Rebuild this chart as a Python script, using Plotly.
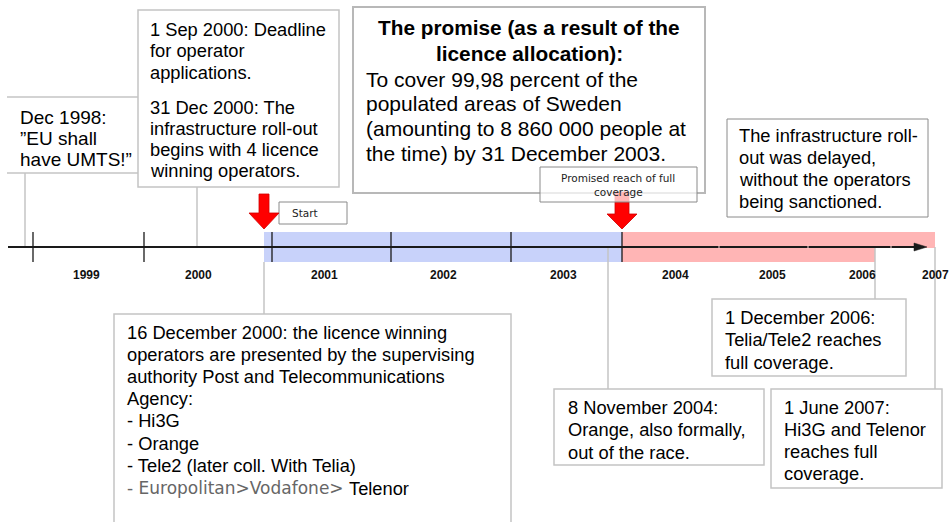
import plotly.graph_objects as go

# ---------------- data ----------------
years = ["1999", "2000", "2001", "2002", "2003", "2004", "2005", "2006", "2007"]

dec1998_lines = ["Dec 1998:", "\u201dEU shall", "have UMTS!\u201d"]
sep2000_lines = ["1 Sep 2000: Deadline", "for operator", "applications."]
dec2000_lines = ["31 Dec 2000: The", "infrastructure roll-out", "begins with 4 licence", "winning operators."]
promise_title = ["The promise (as a result of the", "licence allocation):"]
promise_lines = ["To cover 99,98 percent of the", "populated areas of Sweden",
                 "(amounting to 8 860 000 people at", "the time) by 31 December 2003."]
delayed_lines = ["The infrastructure roll-", "out was delayed,", "without the operators", "being sanctioned."]
licence_lines = ["16 December 2000: the licence winning", "operators are presented by the supervising",
                 "authority Post and Telecommunications", "Agency:", "- Hi3G", "- Orange",
                 "- Tele2 (later coll. With Telia)"]
licence_last_grey = "- Europolitan>Vodafone>"
licence_last_black = "Telenor"
nov2004_lines = ["8 November 2004:", "Orange, also formally,", "out of the race."]
dec2006_lines = ["1 December 2006:", "Telia/Tele2 reaches", "full coverage."]
jun2007_lines = ["1 June 2007:", "Hi3G and Telenor", "reaches full", "coverage."]
start_label = "Start"
promised_label = ["Promised reach of full", "coverage"]

# ---------------- layout (pixel canvas) ----------------
W, H = 951, 522
FONT = "Arial, Liberation Sans, sans-serif"
FONT_W = "DejaVu Sans, Verdana, sans-serif"
year_x = [86, 198, 324, 443, 563, 675, 772, 862, 935]
year_y = 275
tick_x = [33, 144, 272, 391, 511, 622]
minor_gap_x = [719, 808, 891]
AXIS_Y = 247
BAND_TOP, BAND_BOT = 232, 262
TS = 18.3  # box text size

shapes = []
annos = []


def rect(x0, y0, x1, y1, line="#c4c4c4", width=1.5, fill="white"):
    shapes.append(dict(type="rect", xref="x", yref="y", x0=x0, y0=y0, x1=x1, y1=y1,
                       line=dict(color=line, width=width), fillcolor=fill))


def line(x0, y0, x1, y1, color="#c4c4c4", width=1.5):
    shapes.append(dict(type="line", xref="x", yref="y", x0=x0, y0=y0, x1=x1, y1=y1,
                       line=dict(color=color, width=width)))


def text_lines(lines, x, y0, dy, size=TS, color="black", bold=False, anchor="left", family=FONT):
    for i, t in enumerate(lines):
        annos.append(dict(x=x, y=y0 + i * dy, xref="x", yref="y", text=(f"<b>{t}</b>" if bold else t),
                          showarrow=False, xanchor=anchor, yanchor="middle", align=anchor,
                          font=dict(family=family, size=size, color=color)))


def down_arrow(cx, top, head_top, tip, shaft_half, head_half):
    p = (f"M {cx-shaft_half} {top} L {cx+shaft_half} {top} L {cx+shaft_half} {head_top} "
         f"L {cx+head_half} {head_top} L {cx} {tip} L {cx-head_half} {head_top} "
         f"L {cx-shaft_half} {head_top} Z")
    shapes.append(dict(type="path", xref="x", yref="y", path=p, fillcolor="#ff0000",
                       line=dict(color="#d00000", width=0.8)))


# bands
rect(264, BAND_TOP, 622, BAND_BOT, line="rgba(0,0,0,0)", width=0, fill="#c8d2fa")
rect(622, BAND_TOP, 875, BAND_BOT, line="rgba(0,0,0,0)", width=0, fill="#ffb5b5")
rect(875, BAND_TOP, 935, AXIS_Y + 1, line="rgba(0,0,0,0)", width=0, fill="#ffb5b5")

# connectors
line(25, 173, 25, AXIS_Y)
line(197, 187, 197, AXIS_Y)
line(264, BAND_BOT, 264, 314)
line(608, AXIS_Y, 608, 389)
line(875, AXIS_Y, 875, 299)
line(935, AXIS_Y, 935, 389)

# axis
line(8, AXIS_Y, 918, AXIS_Y, color="#1a1a1a", width=2)
shapes.append(dict(type="path", xref="x", yref="y",
                   path=f"M 914 {AXIS_Y-4} L 927 {AXIS_Y} L 914 {AXIS_Y+4} Z",
                   fillcolor="#1a1a1a", line=dict(color="#1a1a1a", width=0.5)))
for tx in tick_x:
    line(tx, BAND_TOP, tx, BAND_BOT, color="#1a1a1a", width=1.3)
for gx in minor_gap_x:
    line(gx, AXIS_Y - 1.5, gx, AXIS_Y + 1.5, color="#ffd6d6", width=1)

# boxes
line(7, 97, 150, 97)
line(7, 173, 150, 173)
rect(138, 10, 339, 187)
rect(353, 7, 705, 193, line="#b8b8b8", width=2)
rect(279, 202, 347, 224, line="#8a8a8a", width=1)
rect(727, 119, 928, 217, line="#8a8a8a", width=1)
rect(114, 314, 511, 540)
rect(554, 389, 764, 465)
rect(712, 299, 906, 376)
rect(771, 389, 942, 488)

# arrows
down_arrow(264, 194, 213, 229, 5, 15)
down_arrow(622, 192, 214, 229, 7, 15)
rect(540, 167, 697, 202, line="#8a8a8a", width=1, fill="rgba(255,255,255,0.72)")

# texts
text_lines(dec1998_lines, 18, 117, 21.2, size=19)
text_lines(sep2000_lines, 148, 29, 21.5)
text_lines(dec2000_lines, 148, 107, 21.3)
text_lines(promise_title, 529, 27, 26, size=20.8, bold=True, anchor="center")
text_lines(promise_lines, 364, 79, 24.7, size=21)
text_lines(delayed_lines, 737, 135, 22.3)
text_lines(licence_lines, 125, 332, 22.2)
text_lines([licence_last_grey.replace(">", "&gt;")], 125, 488, 0, size=17, color="#666666", family=FONT_W)
text_lines([licence_last_black], 347, 488, 0)
text_lines(nov2004_lines, 566, 407, 22.5)
text_lines(dec2006_lines, 723, 317, 22.5)
text_lines(jun2007_lines, 782, 407, 22.2)
text_lines([start_label], 290, 213, 0, size=10.5, color="#222222", family=FONT_W)
text_lines(promised_label, 618, 178, 14, size=10.5, color="#222222", anchor="center", family=FONT_W)

for y, x in zip(years, year_x):
    annos.append(dict(x=x, y=year_y, xref="x", yref="y", text=f"<b>{y}</b>", showarrow=False,
                      xanchor="center", yanchor="middle", font=dict(family=FONT, size=12, color="#111111")))

fig = go.Figure()
fig.update_layout(
    width=W, height=H, margin=dict(l=0, r=0, t=0, b=0),
    paper_bgcolor="white", plot_bgcolor="white",
    xaxis=dict(range=[0, W], visible=False, fixedrange=True),
    yaxis=dict(range=[H, 0], visible=False, fixedrange=True),
    shapes=shapes, annotations=annos, showlegend=False,
)
fig.write_html("out.html", config={"displayModeBar": False},
               post_script="document.body.style.margin='0';document.body.style.overflow='hidden';")
